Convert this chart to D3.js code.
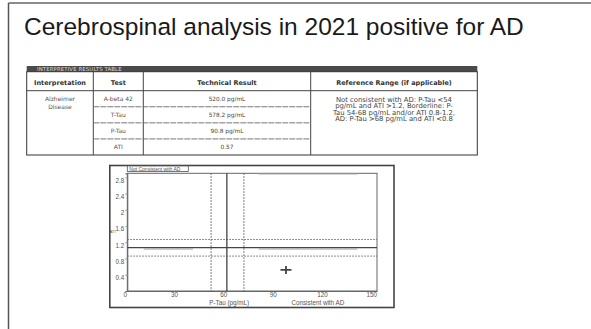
<!DOCTYPE html>
<html>
<head>
<meta charset="utf-8">
<script src="https://cdn.jsdelivr.net/npm/d3@7/dist/d3.min.js"></script>
<style>
  html, body { margin: 0; padding: 0; background: #fff; }
  svg { display: block; font-family: "Liberation Sans", Arial, sans-serif; }
</style>
</head>
<body>
<svg id="chart" width="591" height="329"></svg>
<script>
// ---------- data ----------
const titleText = "Cerebrospinal analysis in 2021 positive for AD";
const tableTitle = "INTERPRETIVE RESULTS TABLE";
const tableHeaders = ["Interpretation", "Test", "Technical Result", "Reference Range (if applicable)"];
const interpretationLines = ["Alzheimer", "Disease"];
const tests = ["A-beta 42", "T-Tau", "P-Tau", "ATI"];
const results = ["520.0 pg/mL", "578.2 pg/mL", "90.8 pg/mL", "0.57"];
const referenceLines = [
  "Not consistent with AD: P-Tau <54",
  "pg/mL and ATI >1.2, Borderline: P-",
  "Tau 54-68 pg/mL and/or ATI 0.8-1.2,",
  "AD: P-Tau >68 pg/mL and ATI <0.8"
];
const xTicks = [0, 30, 60, 90, 120, 150];
const yTicks = [0.4, 0.8, 1.2, 1.6, 2, 2.4, 2.8];
const xDomain = [0, 152];
const yDomain = [0, 2.9];
const dottedX = [51, 71];      // P-Tau borderline bounds (as drawn)
const solidX = [60.6];
const dottedY = [1.27, 0.86];  // ATI borderline bounds (as drawn)
const solidY = [1.07];
const patientPTau = [96.6];
const patientATI = [0.52];
const xAxisLabel = "P-Tau (pg/mL)";
const consistentLabel = "Consistent with AD";
const notConsistentLabel = "Not Consistent with AD";
const yAxisLabel = "ATI";

// ---------- drawing ----------
const svg = d3.select("#chart");
svg.append("rect").attr("width", 591).attr("height", 329).attr("fill", "#fff");

// slide frame (top + left)
svg.append("line").attr("x1", 8.5).attr("x2", 591).attr("y1", 3).attr("y2", 3)
  .attr("stroke", "#666").attr("stroke-width", 1.5);
svg.append("line").attr("x1", 8.5).attr("x2", 8.5).attr("y1", 3).attr("y2", 329)
  .attr("stroke", "#555").attr("stroke-width", 1.5);

// title
svg.append("text").attr("x", 24).attr("y", 35)
  .attr("font-size", 24.5).attr("fill", "#1a1a1a").text(titleText);

// ---------- table ----------
const TF = "DejaVu Sans, Verdana, sans-serif";
const T = { left: 26.7, right: 477.3, top: 66, barBottom: 71.7, headBottom: 90.7, bottom: 155 };
const colX = [T.left, 93.3, 143.3, 310.7, T.right];
const rowY = d3.scaleBand().domain(d3.range(tests.length)).range([T.headBottom, T.bottom]);

const tg = svg.append("g").attr("font-family", TF);
tg.append("rect").attr("x", T.left).attr("y", T.top).attr("width", T.right - T.left)
  .attr("height", T.barBottom - T.top).attr("fill", "#4a4a4a");
tg.append("text").attr("x", 37).attr("y", T.barBottom - 1)
  .attr("font-size", 5.4).attr("fill", "#d8d8d8").attr("letter-spacing", 0.1).text(tableTitle);
tg.append("rect").attr("x", T.left).attr("y", T.barBottom).attr("width", T.right - T.left)
  .attr("height", T.bottom - T.barBottom).attr("fill", "none").attr("stroke", "#333").attr("stroke-width", 1);
tg.append("line").attr("x1", T.left).attr("x2", T.right).attr("y1", T.headBottom).attr("y2", T.headBottom)
  .attr("stroke", "#444").attr("stroke-width", 1);
// column dividers
tg.selectAll("line.col").data(colX.slice(1, -1)).join("line").attr("class", "col")
  .attr("x1", d => d).attr("x2", d => d).attr("y1", T.barBottom).attr("y2", T.bottom)
  .attr("stroke", "#444").attr("stroke-width", 1);
// row dividers (Test + Technical Result columns)
tg.selectAll("line.row").data(d3.range(1, tests.length)).join("line").attr("class", "row")
  .attr("x1", colX[1]).attr("x2", colX[3])
  .attr("y1", d => rowY(d)).attr("y2", d => rowY(d))
  .attr("stroke", "#777").attr("stroke-width", 1).attr("stroke-dasharray", "6,1");
// header labels
tg.selectAll("text.head").data(tableHeaders).join("text").attr("class", "head")
  .attr("x", (d, i) => (colX[i] + colX[i + 1]) / 2).attr("y", 84.5)
  .attr("text-anchor", "middle").attr("font-size", 6.5).attr("font-weight", "bold")
  .attr("fill", "#333").text(d => d);
// interpretation
tg.selectAll("text.interp").data(interpretationLines).join("text").attr("class", "interp")
  .attr("x", (colX[0] + colX[1]) / 2).attr("y", (d, i) => 101 + i * 8)
  .attr("text-anchor", "middle").attr("font-size", 6).attr("fill", "#555").text(d => d);
// tests + results
tg.selectAll("text.test").data(tests).join("text").attr("class", "test")
  .attr("x", (colX[1] + colX[2]) / 2).attr("y", (d, i) => rowY(i) + rowY.bandwidth() / 2 + 2.2)
  .attr("text-anchor", "middle").attr("font-size", 6).attr("fill", "#555").text(d => d);
tg.selectAll("text.res").data(results).join("text").attr("class", "res")
  .attr("x", (colX[2] + colX[3]) / 2).attr("y", (d, i) => rowY(i) + rowY.bandwidth() / 2 + 2.2)
  .attr("text-anchor", "middle").attr("font-size", 5.8).attr("fill", "#444").text(d => d);
// reference range
tg.selectAll("text.ref").data(referenceLines).join("text").attr("class", "ref")
  .attr("x", (colX[3] + colX[4]) / 2).attr("y", (d, i) => 101.5 + i * 6.6)
  .attr("text-anchor", "middle").attr("font-size", 6.8).attr("fill", "#444").text(d => d);

// ---------- chart ----------
const F = { left: 109.8, top: 165.5, right: 394, bottom: 307.5 };
const P = { left: 127.3, top: 173.3, right: 377, bottom: 291 };
svg.append("rect").attr("x", F.left).attr("y", F.top).attr("width", F.right - F.left)
  .attr("height", F.bottom - F.top).attr("fill", "none").attr("stroke", "#444").attr("stroke-width", 1.6);

const x = d3.scaleLinear().domain(xDomain).range([P.left, P.right]);
const y = d3.scaleLinear().domain(yDomain).range([P.bottom, P.top]);

const cg = svg.append("g");
cg.append("rect").attr("x", P.left).attr("y", P.top).attr("width", P.right - P.left)
  .attr("height", P.bottom - P.top).attr("fill", "#fff").attr("stroke", "#666").attr("stroke-width", 1);

// faint ghost labels
cg.append("line").attr("x1", x(10)).attr("x2", x(40)).attr("y1", y(solidY[0]) + 1.5).attr("y2", y(solidY[0]) + 1.5)
  .attr("stroke", "#bbb").attr("stroke-width", 1.2);
cg.append("line").attr("x1", x(80)).attr("x2", x(140)).attr("y1", y(solidY[0]) + 1.5).attr("y2", y(solidY[0]) + 1.5)
  .attr("stroke", "#bbb").attr("stroke-width", 1.2);
cg.append("line").attr("x1", x(80)).attr("x2", x(140)).attr("y1", P.top + 1).attr("y2", P.top + 1)
  .attr("stroke", "#ccc").attr("stroke-width", 1);

// axes
const xAxis = d3.axisBottom(x).tickValues(xTicks).tickSize(0).tickPadding(0).tickFormat(d3.format("d"));
const gx = cg.append("g").attr("transform", `translate(0,${P.bottom})`).call(xAxis);
gx.select(".domain").attr("stroke", "#666");
gx.selectAll("text").attr("font-size", 6.3).attr("fill", "#555").attr("dx", -2.5).attr("dy", "0.95em")
  .attr("font-family", "Liberation Sans, Arial, sans-serif");

const yAxis = d3.axisLeft(y).tickValues(yTicks).tickSize(2).tickPadding(1).tickFormat(d => String(d));
const gy = cg.append("g").attr("transform", `translate(${P.left},0)`).call(yAxis);
gy.select(".domain").attr("stroke", "#666");
gy.selectAll(".tick line").attr("stroke", "#999");
gy.selectAll("text").attr("font-size", 6.3).attr("fill", "#555").attr("dy", "0.75em")
  .attr("font-family", "Liberation Sans, Arial, sans-serif");

// reference lines
cg.selectAll("line.dx").data(dottedX).join("line").attr("class", "dx")
  .attr("x1", d => x(d)).attr("x2", d => x(d)).attr("y1", P.top).attr("y2", P.bottom)
  .attr("stroke", "#555").attr("stroke-width", 1).attr("stroke-dasharray", "1.5,1.5");
cg.selectAll("line.dy").data(dottedY).join("line").attr("class", "dy")
  .attr("x1", P.left).attr("x2", P.right).attr("y1", d => y(d)).attr("y2", d => y(d))
  .attr("stroke", "#666").attr("stroke-width", 1).attr("stroke-dasharray", "1.5,1.5");
cg.selectAll("line.sx").data(solidX).join("line").attr("class", "sx")
  .attr("x1", d => x(d)).attr("x2", d => x(d)).attr("y1", P.top).attr("y2", P.bottom)
  .attr("stroke", "#444").attr("stroke-width", 1.3);
cg.selectAll("line.sy").data(solidY).join("line").attr("class", "sy")
  .attr("x1", P.left).attr("x2", P.right).attr("y1", d => y(d)).attr("y2", d => y(d))
  .attr("stroke", "#444").attr("stroke-width", 1.3);

// patient marker
const pts = patientPTau.map((v, i) => [v, patientATI[i]]);
cg.selectAll("path.pt").data(pts).join("path").attr("class", "pt")
  .attr("d", d => {
    const cx = x(d[0]), cy = y(d[1]);
    return `M${cx - 5.5},${cy}H${cx + 5.5}M${cx},${cy - 4}V${cy + 4}`;
  })
  .attr("stroke", "#444").attr("stroke-width", 1.8).attr("fill", "none");

// labels
const nc = cg.append("g");
nc.append("rect").attr("x", P.left).attr("y", 166).attr("width", 61).attr("height", 5.5)
  .attr("fill", "#fff").attr("stroke", "#555").attr("stroke-width", 0.8);
nc.append("text").attr("x", P.left + 2).attr("y", 170.6).attr("font-size", 5)
  .attr("fill", "#555").text(notConsistentLabel);
cg.append("text").attr("x", x(62)).attr("y", 305).attr("text-anchor", "middle")
  .attr("font-size", 6.3).attr("fill", "#555").text(xAxisLabel);
cg.append("text").attr("x", x(116)).attr("y", 305).attr("text-anchor", "middle")
  .attr("font-size", 6.3).attr("fill", "#555").text(consistentLabel);
cg.append("text").attr("x", 112.5).attr("y", 233).attr("text-anchor", "middle")
  .attr("font-size", 4.2).attr("fill", "#555").text(yAxisLabel);
</script>
</body>
</html>
